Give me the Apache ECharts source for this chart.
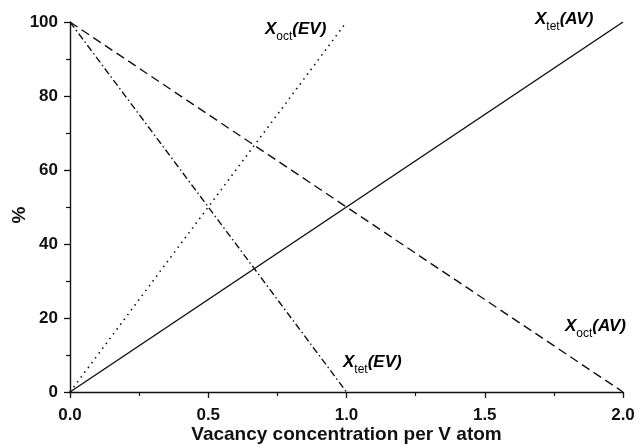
<!DOCTYPE html>
<html>
<head>
<meta charset="utf-8">
<script src="https://cdn.jsdelivr.net/npm/echarts@6/dist/echarts.min.js"></script>
<style>
  html, body { margin: 0; padding: 0; background: #fff; }
  #chart { width: 637px; height: 448px; }
</style>
</head>
<body>
<div id="chart"></div>
<script>
  // values
  var xOctEV = [[0, 0], [1, 100]]
  var xTetEV = [[0, 100], [1, 0]]
  var xTetAV = [[0, 0], [2, 100]]
  var xOctAV = [[0, 100], [2, 0]]

  var ink = '#111'
  var font = 'Liberation Sans'

  var rich = {
    x: { fontFamily: font, fontSize: 17, fontWeight: 'bold', fontStyle: 'italic', color: ink, verticalAlign: 'top', lineHeight: 22 },
    sub: { fontFamily: font, fontSize: 12, color: ink, verticalAlign: 'bottom', lineHeight: 22, padding: [7, 0, 0, 0] },
    p: { fontFamily: font, fontSize: 17, fontWeight: 'bold', fontStyle: 'italic', color: ink, verticalAlign: 'top', lineHeight: 22 }
  }

  function tag(left, top, sub, rest) {
    return {
      type: 'text', left: left, top: top,
      style: { text: '{x|X}{sub|' + sub + '}{p|' + rest + '}', rich: rich }
    }
  }

  var chart = echarts.init(document.getElementById('chart'))
  chart.setOption({
    animation: false,
    grid: { left: 70, right: 14, top: 22, bottom: 56, outerBoundsMode: 'none' },
    xAxis: {
      type: 'value', min: 0, max: 2, interval: 0.5,
      name: 'Vacancy concentration per V atom',
      nameLocation: 'middle', nameGap: 33, nameMoveOverlap: false,
      nameTextStyle: { fontFamily: font, fontSize: 19, fontWeight: 'bold', color: ink },
      axisLine: { lineStyle: { color: ink, width: 1.4 } },
      axisTick: { inside: false, length: 6, lineStyle: { color: ink, width: 1.3 } },
      minorTick: { show: true, splitNumber: 2, length: 4, lineStyle: { color: ink, width: 1.2 } },
      splitLine: { show: false },
      axisLabel: { fontFamily: font, fontSize: 17, fontWeight: 'bold', color: ink, margin: 15,
        formatter: function (v) { return v.toFixed(1) } }
    },
    yAxis: {
      type: 'value', min: 0, max: 100, interval: 20,
      axisLine: { show: true, lineStyle: { color: ink, width: 1.4 } },
      axisTick: { show: true, inside: false, length: 6, lineStyle: { color: ink, width: 1.3 } },
      minorTick: { show: true, splitNumber: 2, length: 4, lineStyle: { color: ink, width: 1.2 } },
      splitLine: { show: false },
      axisLabel: { fontFamily: font, fontSize: 17, fontWeight: 'bold', color: ink, margin: 12 }
    },
    series: [
      { name: 'Xoct(EV)', type: 'line', data: xOctEV, showSymbol: false,
        lineStyle: { color: ink, width: 1.6, type: [1.5, 4.5] } },
      { name: 'Xtet(EV)', type: 'line', data: xTetEV, showSymbol: false,
        lineStyle: { color: ink, width: 1.4, type: [7, 3, 1.5, 3] } },
      { name: 'Xtet(AV)', type: 'line', data: xTetAV, showSymbol: false,
        lineStyle: { color: ink, width: 1.5 } },
      { name: 'Xoct(AV)', type: 'line', data: xOctAV, showSymbol: false,
        lineStyle: { color: ink, width: 1.4, type: [9, 5] } }
    ],
    graphic: [
      {
        type: 'text', x: 20, y: 215, rotation: Math.PI / 2,
        style: { text: '%', fontFamily: font, fontSize: 19, fontWeight: 'bold', fill: ink,
          align: 'center', verticalAlign: 'middle' }
      },
      tag(265, 21, 'oct', '(EV)'),
      tag(535, 11, 'tet', '(AV)'),
      tag(565, 318, 'oct', '(AV)'),
      tag(343, 354, 'tet', '(EV)')
    ]
  })
</script>
</body>
</html>
